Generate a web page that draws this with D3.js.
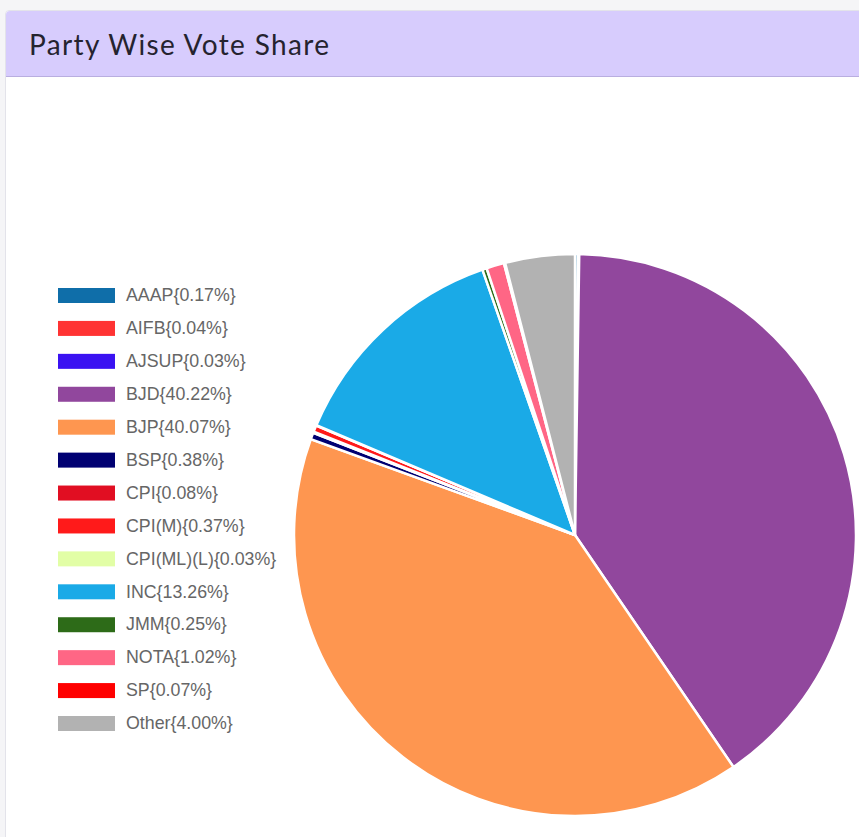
<!DOCTYPE html>
<html>
<head>
<meta charset="utf-8">
<script src="https://cdn.jsdelivr.net/npm/d3@7"></script>
<style>
  body { margin: 0; background: #f5f5f7; overflow: hidden; }
  .card { position: absolute; left: 5px; top: 10px; width: 870px; height: 840px; background: #fff; border: 1px solid #e3e3ea; border-radius: 4px 0 0 0; }
  .card-header { height: 65px; background: #d7ccfd; border-bottom: 1px solid #b9aee0; border-radius: 4px 0 0 0; }
  .card-header h4 { margin: 0; padding-left: 23px; font-family: "Lato", "Noto Sans", sans-serif; font-weight: 400; font-size: 28px; line-height: 66px; color: #25232f; letter-spacing: 1.35px; }
  svg { position: absolute; left: 0; top: 0; }
</style>
</head>
<body>
<div class="card"><div class="card-header"><h4>Party Wise Vote Share</h4></div></div>
<svg id="chart" width="859" height="837"></svg>
<script>
const parties = ["AAAP", "AIFB", "AJSUP", "BJD", "BJP", "BSP", "CPI", "CPI(M)", "CPI(ML)(L)", "INC", "JMM", "NOTA", "SP", "Other"];
const shares = [0.17, 0.04, 0.03, 40.22, 40.07, 0.38, 0.08, 0.37, 0.03, 13.26, 0.25, 1.02, 0.07, 4.00];
const colors = ["#0f6ea9", "#ff3333", "#3a12f2", "#91479d", "#fe9650", "#000072", "#e10e22", "#ff1a1a", "#e2fea6", "#1aaae7", "#2d6b18", "#ff6685", "#ff0000", "#b2b2b2"];

const data = parties.map((p, i) => ({ party: p, share: shares[i] }));

const svg = d3.select("#chart");
const cx = 575, cy = 535, radius = 281;

const color = d3.scaleOrdinal().domain(parties).range(colors);

const pie = d3.pie().sort(null).value(d => d.share);
const arc = d3.arc().innerRadius(0).outerRadius(radius);

svg.append("g")
  .attr("transform", `translate(${cx},${cy})`)
  .selectAll("path")
  .data(pie(data))
  .join("path")
  .attr("d", arc)
  .attr("fill", d => color(d.data.party))
  .attr("stroke", "#fff")
  .attr("stroke-width", 2.5);

// legend
const y = d3.scalePoint().domain(parties).range([295, 723]);

const legend = svg.append("g")
  .selectAll("g")
  .data(data)
  .join("g")
  .attr("transform", d => `translate(58,${y(d.party)})`);

legend.append("rect")
  .attr("x", 0)
  .attr("y", -7)
  .attr("width", 57)
  .attr("height", 15)
  .attr("fill", d => color(d.party));

legend.append("text")
  .attr("x", 68)
  .attr("dy", "0.35em")
  .attr("font-family", "'Liberation Sans', Arial, sans-serif")
  .attr("font-size", 17.8)
  .attr("fill", "#666")
  .text(d => `${d.party}{${d.share.toFixed(2)}%}`);
</script>
</body>
</html>
